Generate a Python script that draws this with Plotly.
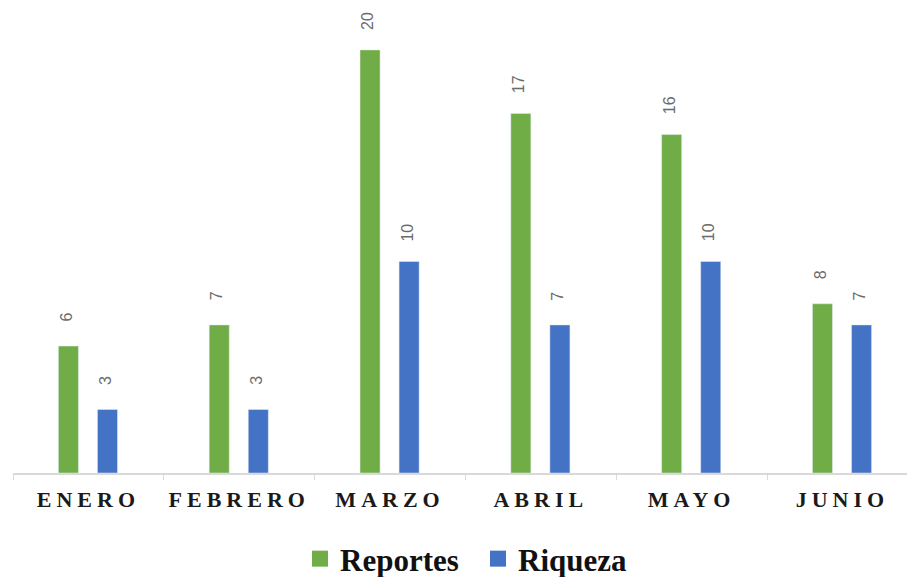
import plotly.graph_objects as go

categories = ["ENERO", "FEBRERO", "MARZO", "ABRIL", "MAYO", "JUNIO"]
reportes = [6, 7, 20, 17, 16, 8]
riqueza = [3, 3, 10, 7, 10, 7]

GREEN = "#70AD47"
BLUE = "#4472C4"
BAR_W = 0.133
OFFS = {"Reportes": -0.199, "Riqueza": 0.06}
LABEL_FONT = dict(family="Liberation Sans, Arial", size=16, color="#6b6b6b")

fig = go.Figure()
for nm, vals, col in (("Reportes", reportes, GREEN), ("Riqueza", riqueza, BLUE)):
    fig.add_trace(go.Bar(
        x=categories, y=vals, name=nm, marker_color=col,
        width=BAR_W, offset=OFFS[nm], showlegend=False,
    ))
    # rotated data labels placed above each bar
    for i, v in enumerate(vals):
        fig.add_annotation(
            x=i + OFFS[nm] + BAR_W / 2, y=v, xref="x", yref="y",
            text=str(v), showarrow=False, textangle=-90,
            xanchor="center", yanchor="middle", yshift=29, xshift=-2,
            font=LABEL_FONT,
        )

# legend entries with larger square swatches
for nm, col in (("Reportes", GREEN), ("Riqueza", BLUE)):
    fig.add_trace(go.Scatter(
        x=[None], y=[None], mode="markers", name=nm,
        marker=dict(symbol="square", size=16, color=col),
    ))

fig.update_layout(
    width=907, height=577,
    margin=dict(l=13, r=0, t=0, b=104),
    paper_bgcolor="white", plot_bgcolor="white",
    barmode="overlay",
    xaxis=dict(
        type="category", range=[-0.5, 5.428],
        showline=True, linecolor="#D9D9D9", linewidth=1.5,
        ticks="outside", tickson="boundaries", ticklen=5, tickcolor="#D9D9D9",
        showgrid=False, zeroline=False, ticklabelstandoff=6,
        tickfont=dict(family="Liberation Serif, Times New Roman", size=22,
                      color="#1a1a1a", weight="bold"),
    ),
    yaxis=dict(range=[0, 22.36], visible=False, showgrid=False, zeroline=False),
    legend=dict(
        orientation="h", xanchor="center", x=0.527, xref="container",
        yanchor="middle", y=(577 - 559) / 577, yref="container",
        font=dict(family="Liberation Serif, Times New Roman", size=31,
                  color="#111", weight="bold"),
        itemwidth=30, entrywidth=133, entrywidthmode="pixels",
    ),
)

post = ("var s=document.createElement('style');"
        "s.innerHTML='.xtick text{letter-spacing:5px}';"
        "document.head.appendChild(s);")
fig.write_html("out.html", post_script=post)
